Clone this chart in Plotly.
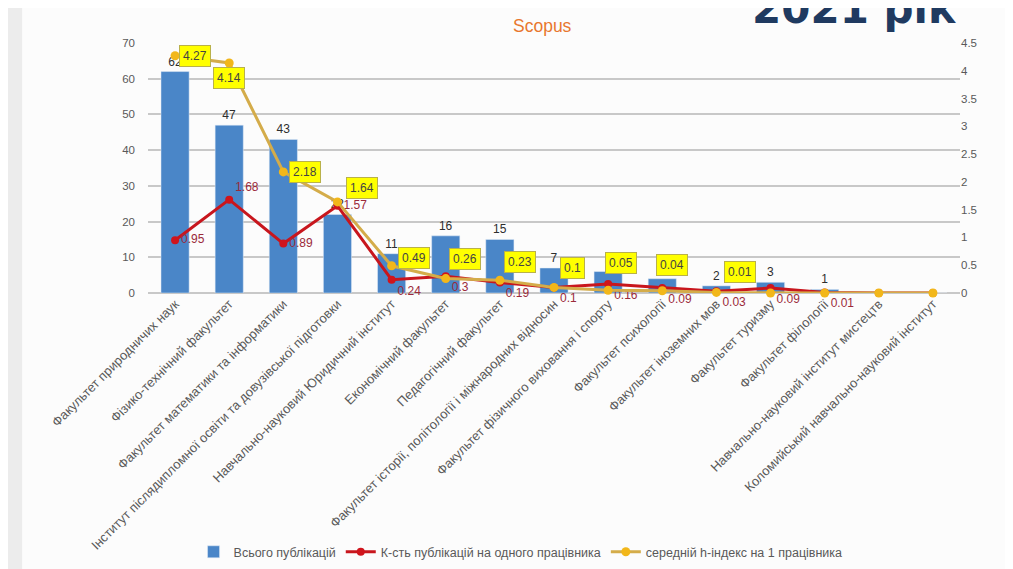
import plotly.graph_objects as go

faculties = [
    'Факультет природничих наук',
    'Фізико-технічний факультет',
    'Факультет математики та інформатики',
    'Інститут післядипломної освіти та довузівської підготовки',
    'Навчально-науковий Юридичний інститут',
    'Економічний факультет',
    'Педагогічний факультет',
    'Факультет історії, політології і міжнародних відносин',
    'Факультет фізичного виховання і спорту',
    'Факультет психології',
    'Факультет іноземних мов',
    'Факультет туризму',
    'Факультет філології',
    'Навчально-науковий інститут мистецтв',
    'Коломийський навчально-науковий інститут',
]
publications = [62, 47, 43, 22, 11, 16, 15, 7, 6, 4, 2, 3, 1, 0, 0]
per_employee = [0.95, 1.68, 0.89, 1.57, 0.24, 0.3, 0.19, 0.1, 0.16, 0.09, 0.03, 0.09, 0.01, 0, 0]
h_index = [4.27, 4.14, 2.18, 1.64, 0.49, 0.26, 0.23, 0.1, 0.05, 0.04, 0.01, 0, 0, 0, 0]

right_ticks = [0, 0.5, 1, 1.5, 2, 2.5, 3, 3.5, 4, 4.5]

# label offsets (px) for yellow boxes, tuned by eye
h_shift = [(20, 0), (0, -15), (22, 0), (25, 14), (22, 8), (19, 20), (20, 18),
           (18, 19), (13, 27), (10, 26), (24, 20)]
red_pos = ['middle right', 'top right', 'middle right', 'middle right'] + ['bottom right'] * 11

grey = '#595959'

fig = go.Figure()

fig.add_trace(go.Bar(
    x=faculties, y=publications, name='Всього публікацій',
    marker_color='#4a86c8', width=0.52,
    text=[str(v) if v else '' for v in publications],
    textposition='outside', cliponaxis=False,
    textfont=dict(size=12, color='#2e2e2e', family='Liberation Sans'),
))

fig.add_trace(go.Scatter(
    x=faculties, y=per_employee, name='К-сть публікацій на одного працівника',
    yaxis='y2', mode='lines+markers+text',
    line=dict(color='#c8161d', width=3),
    marker=dict(color='#d0141c', size=8, symbol='circle'),
    text=[str(v) if v else '' for v in per_employee],
    textposition=red_pos, cliponaxis=False,
    textfont=dict(size=12, color='#9b2a3a', family='Liberation Sans'),
))

fig.add_trace(go.Scatter(
    x=faculties, y=h_index, name='середній h-індекс на 1 працівника',
    yaxis='y2', mode='lines+markers',
    line=dict(color='#d4ac4a', width=3),
    marker=dict(color='#f2b71a', size=9),
    cliponaxis=False,
))

for i, v in enumerate(h_index):
    if not v:
        continue
    dx, dy = h_shift[i]
    fig.add_annotation(
        x=faculties[i], y=v, yref='y2', text=str(v), showarrow=False,
        xshift=dx, yshift=dy, bgcolor='#ffff00', bordercolor='#b9b14a',
        borderwidth=1, borderpad=3,
        font=dict(size=12, color='#444444', family='Liberation Sans'),
    )

fig.add_annotation(
    x=0.997, y=1.032, xref='paper', yref='paper', xanchor='right', yanchor='bottom',
    text='<b>2021 рік</b>', showarrow=False,
    font=dict(size=42, color='#1f3a60', family='DejaVu Sans'),
)
fig.add_annotation(
    x=0.486, y=1.068, xref='paper', yref='paper', xanchor='center', yanchor='middle',
    text='Scopus', showarrow=False,
    font=dict(size=17.5, color='#e8772e', family='Liberation Sans Narrow, Liberation Sans'),
)

fig.add_shape(type='rect', xref='paper', yref='paper', x0=-0.3, x1=-0.155, y0=-1.3, y1=1.3,
              fillcolor='#ececec', line_width=0, layer='below')

fig.update_layout(
    width=1005, height=561,
    margin=dict(l=140, r=53, t=35, b=276, autoexpand=False),
    paper_bgcolor='#fcfcfc', plot_bgcolor='#fcfcfc',
    font=dict(family='Liberation Sans', size=11, color=grey),
    bargap=0.48,
    showlegend=True,
    legend=dict(orientation='h', x=0.51, xanchor='center', xref='container',
                y=0.03, yanchor='middle', yref='container',
                font=dict(size=12.5, color=grey), itemwidth=30, tracegroupgap=0),
    xaxis=dict(range=[-0.5, 14.5], tickangle=-45, tickfont=dict(size=13, color=grey),
               showgrid=False, showline=False, ticks='', automargin=False),
    yaxis=dict(range=[0, 70], dtick=10, showgrid=True, gridcolor='#c8c8c8', gridwidth=2,
               zeroline=True, zerolinecolor='#c8c8c8', zerolinewidth=2, automargin=False,
               tickfont=dict(size=11.5, color=grey), ticks='', ticklabelstandoff=12),
    yaxis2=dict(range=[0, 4.5], overlaying='y', side='right', tickvals=right_ticks,
                ticktext=[f'{t:g}' for t in right_ticks], showgrid=False, zeroline=False,
                automargin=False, tickfont=dict(size=11.5, color=grey), ticklabelstandoff=0),
)

fig.write_html('out.html')
